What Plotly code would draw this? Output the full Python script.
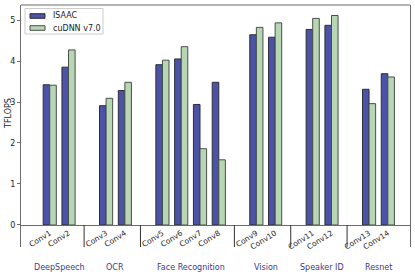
import plotly.graph_objects as go

# ---- data ----
convs = ["Conv1", "Conv2", "Conv3", "Conv4", "Conv5", "Conv6", "Conv7",
         "Conv8", "Conv9", "Conv10", "Conv11", "Conv12", "Conv13", "Conv14"]
isaac = [3.42, 3.85, 2.91, 3.28, 3.91, 4.05, 2.94, 3.48, 4.64, 4.58, 4.77, 4.87, 3.31, 3.69]
cudnn = [3.41, 4.27, 3.09, 3.48, 4.02, 4.35, 1.86, 1.59, 4.82, 4.93, 5.04, 5.11, 2.96, 3.61]
groups = ["DeepSpeech", "OCR", "Face Recognition", "Vision", "Speaker ID", "Resnet"]
group_sizes = [2, 2, 4, 2, 2, 2]
yticks = [0, 1, 2, 3, 4, 5]
series_names = ["ISAAC", "cuDNN v7.0"]
series_colors = ["#4c53a6", "#b7d6b3"]
series_edges = ["#2e2e3a", "#4a4f4a"]

# slot positions: one empty slot between application groups
xpos = []
group_centers = []
group_bounds = []
slot = 0
for gi, n in enumerate(group_sizes):
    start = slot
    for k in range(n):
        xpos.append(slot)
        slot += 1
    group_centers.append((start + slot - 1) / 2)
    group_bounds.append(slot - 0.17)
    slot += 1

FONT = "DejaVu Sans"
W, H = 415, 275
ML, MR, MT, MB = 21, 5, 5, 28
PW, PH = W - ML - MR, H - MT - MB
YMIN, YMAX = -0.537, 5.366
XMIN, XMAX = -1.53, 19.18


def px(x):
    return (x - ML) / PW


def py(y):
    return (H - MB - y) / PH


fig = go.Figure()
for name, vals, col, edge in zip(series_names, [isaac, cudnn], series_colors, series_edges):
    fig.add_trace(go.Bar(x=xpos, y=vals, name=name, showlegend=False,
                         marker=dict(color=col, line=dict(color=edge, width=1))))

shapes = []
# top spine
shapes.append(dict(type="line", xref="paper", yref="paper", x0=0, x1=1, y0=1, y1=1,
                   line=dict(color="#6b6b6b", width=1)))
# group separators below zero
for b in group_bounds[:-1]:
    shapes.append(dict(type="line", xref="x", yref="y", x0=b, x1=b, y0=0, y1=YMIN,
                       line=dict(color="#333333", width=1)))

annotations = []
for g, c in zip(groups, group_centers):
    annotations.append(dict(text=g, x=c, xref="x", y=py(267), yref="paper",
                            showarrow=False, xanchor="center", yanchor="middle",
                            font=dict(family=FONT, size=8, color="#3b3b8c")))

# y-axis label
annotations.append(dict(text="TFLOPS", x=px(8), y=py(114), xref="paper", yref="paper",
                        textangle=-90, showarrow=False, xanchor="center", yanchor="middle",
                        font=dict(family=FONT, size=8, color="#222222")))

# legend (matplotlib-style box)
shapes.append(dict(type="rect", xref="paper", yref="paper",
                   x0=px(25), x1=px(103), y0=py(34), y1=py(8.5),
                   line=dict(color="#cccccc", width=1), fillcolor="white", layer="above"))
for i, (name, col, edge) in enumerate(zip(series_names, series_colors, series_edges)):
    cy = 16 + 12 * i
    shapes.append(dict(type="rect", xref="paper", yref="paper",
                       x0=px(30), x1=px(45), y0=py(cy + 2.3), y1=py(cy - 2.3),
                       line=dict(color=edge, width=1), fillcolor=col, layer="above"))
    annotations.append(dict(text=name, x=px(51), y=py(cy), xref="paper", yref="paper",
                            showarrow=False, xanchor="left", yanchor="middle",
                            font=dict(family=FONT, size=8, color="#222222")))

zero_pos = -YMIN / (YMAX - YMIN)

fig.update_layout(
    width=W, height=H,
    margin=dict(l=ML, r=MR, t=MT, b=MB, autoexpand=False),
    paper_bgcolor="white", plot_bgcolor="white",
    barmode="group", bargap=0.3, bargroupgap=0,
    font=dict(family=FONT, size=8, color="#222222"),
    showlegend=False,
    xaxis=dict(range=[XMIN, XMAX], tickvals=xpos, ticktext=convs, tickangle=-32,
               anchor="free", position=zero_pos, showline=True, linecolor="#6b6b6b",
               linewidth=1, ticks="", showgrid=False, zeroline=False, automargin=False,
               tickfont=dict(family=FONT, size=7.6, color="#222222")),
    yaxis=dict(range=[YMIN, YMAX], tickvals=yticks, showline=True, linecolor="#6b6b6b",
               linewidth=1, mirror=True, ticks="outside", ticklen=3, tickcolor="#6b6b6b",
               showgrid=False, zeroline=False, automargin=False,
               tickfont=dict(family=FONT, size=8, color="#222222")),
    shapes=shapes,
    annotations=annotations,
)

fig.write_html("out.html", config={"displayModeBar": False},
               post_script="document.body.style.margin='0';")
